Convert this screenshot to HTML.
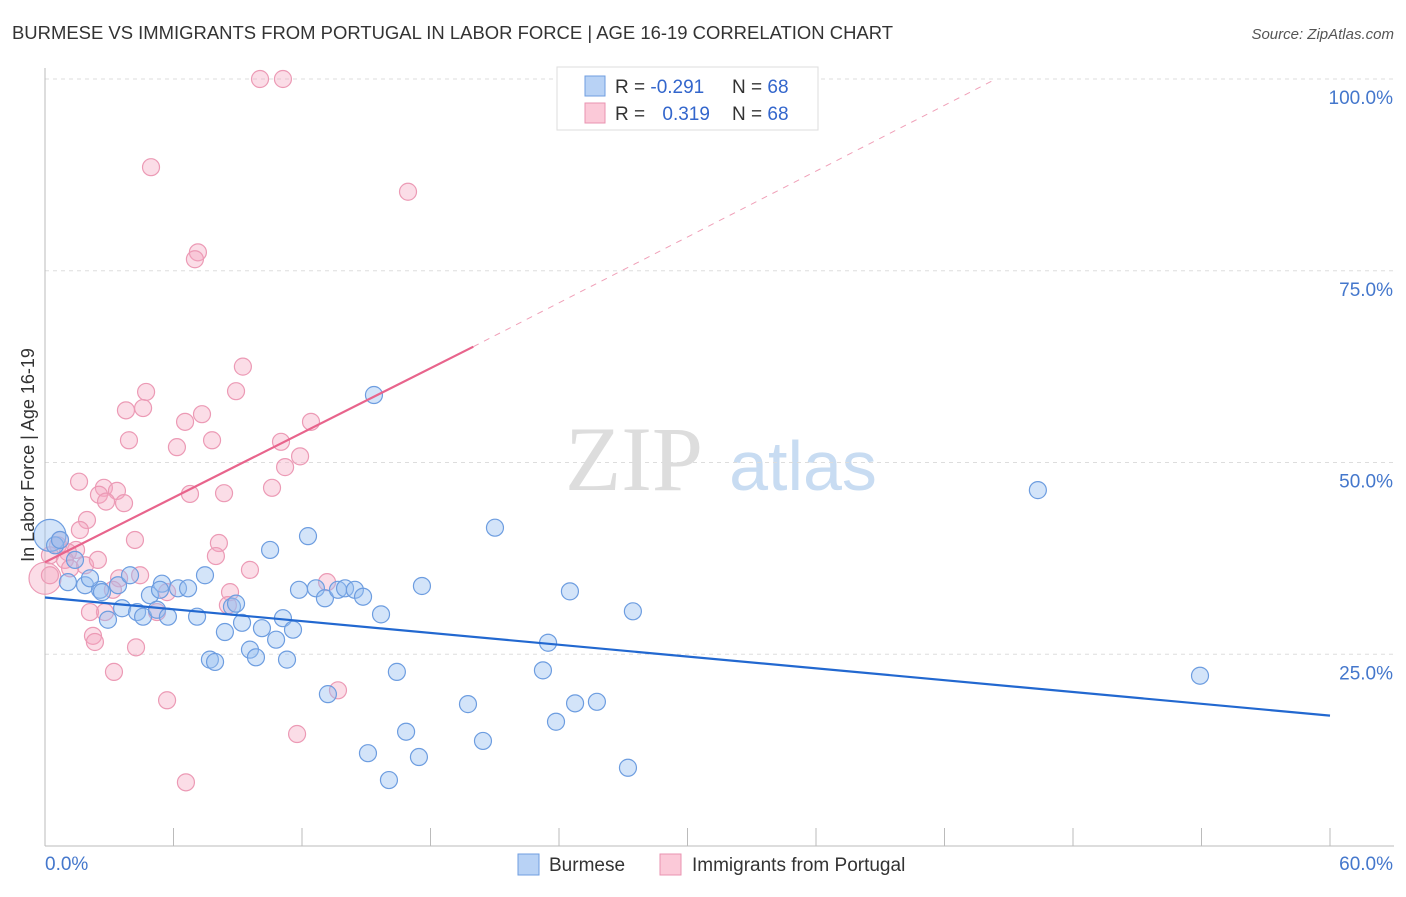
<!DOCTYPE html>
<html><head><meta charset="utf-8"><style>
body{margin:0;background:#fff;font-family:"Liberation Sans",sans-serif}
</style></head><body>
<svg width="1406" height="892" xmlns="http://www.w3.org/2000/svg" font-family="Liberation Sans, sans-serif">
<text x="12" y="39" font-size="18" fill="#333" textLength="881" lengthAdjust="spacingAndGlyphs">BURMESE VS IMMIGRANTS FROM PORTUGAL IN LABOR FORCE | AGE 16-19 CORRELATION CHART</text>
<text x="1394" y="39" font-size="15" fill="#555" text-anchor="end" font-style="italic">Source: ZipAtlas.com</text>
<g><text x="634" y="490" font-size="92" fill="#ddd" text-anchor="middle" font-family="Liberation Serif, serif">ZIP</text><text x="803" y="490" font-size="70" fill="#c8dcf2" text-anchor="middle">atlas</text></g>
<g id="grid"></g>
<g id="axes"></g>
<g id="marks"></g>
<text transform="translate(34,455) rotate(-90)" font-size="18" fill="#333" text-anchor="middle">In Labor Force | Age 16-19</text>
<g>
<rect x="557" y="67" width="261" height="63" fill="#fff" stroke="#ddd"/>
<rect x="585" y="76" width="20" height="20" fill="#b8d2f5" stroke="#6f9ee0"/>
<rect x="585" y="103" width="20" height="20" fill="#fbc9d8" stroke="#ea93b0"/>
<text x="615" y="93" font-size="19" fill="#333">R = <tspan fill="#3366cc">-0.291</tspan></text>
<text x="732" y="93" font-size="19" fill="#333">N = <tspan fill="#3366cc">68</tspan></text>
<text x="615" y="120" font-size="19" fill="#333">R = <tspan fill="#3366cc" dx="12">0.319</tspan></text>
<text x="732" y="120" font-size="19" fill="#333">N = <tspan fill="#3366cc">68</tspan></text>
</g>
<g>
<rect x="518" y="854" width="21" height="21" fill="#b8d2f5" stroke="#6f9ee0"/>
<text x="549" y="871" font-size="19" fill="#333">Burmese</text>
<rect x="660" y="854" width="21" height="21" fill="#fbc9d8" stroke="#ea93b0"/>
<text x="692" y="871" font-size="19" fill="#333">Immigrants from Portugal</text>
</g>
</svg>
<script>
const yTicks=[25,50,75,100];
const yTickLabels=["25.0%","50.0%","75.0%","100.0%"];
const xTickCount=10;
const blueX=[0.23,0.47,1.07,1.87,2.57,2.10,2.94,3.41,3.60,3.97,4.30,4.58,4.90,5.23,5.46,5.74,6.21,6.68,7.10,7.47,7.70,7.94,8.40,8.73,8.92,9.20,9.57,9.85,10.13,10.51,10.79,11.11,11.30,11.58,11.86,12.28,12.65,13.07,13.21,13.68,14.01,14.47,14.85,15.08,15.36,15.69,16.06,16.43,16.86,17.46,17.60,19.75,20.45,21.01,23.25,23.49,23.86,24.51,24.75,25.77,27.22,27.45,46.36,53.93,0.70,1.40,2.66,5.37];
const blueY=[40.5,39.2,34.4,34.0,33.4,34.9,29.5,34.0,31.0,35.3,30.5,29.9,32.7,30.8,34.2,29.9,33.6,33.6,29.9,35.3,24.3,24.0,27.9,31.2,31.6,29.1,25.6,24.6,28.4,38.6,26.9,29.7,24.3,28.2,33.4,40.4,33.6,32.3,19.8,33.4,33.6,33.4,32.5,12.1,58.8,30.2,8.6,22.7,14.9,11.6,33.9,18.5,13.7,41.5,22.9,26.5,16.2,33.2,18.6,18.8,10.2,30.6,46.4,22.2,39.9,37.3,33.1,33.4];
const pinkX=[10.04,11.11,4.95,16.95,7.14,7.00,9.24,4.72,8.92,3.78,4.58,7.33,6.54,12.42,3.92,7.80,11.02,6.16,11.91,11.21,1.59,10.60,2.75,3.36,2.52,6.77,8.36,2.85,3.69,1.96,1.63,4.20,8.12,7.98,1.45,0.61,1.07,0.93,0.23,0.00,0.23,1.87,2.47,9.57,3.46,4.44,3.17,2.80,2.10,5.70,8.64,8.54,13.17,5.23,2.24,2.33,4.25,3.22,5.70,13.68,11.77,6.58,1.17,0.70];
const pinkY=[100,100,88.5,85.3,77.4,76.5,62.5,59.2,59.3,56.8,57.1,56.3,55.3,55.3,52.9,52.9,52.7,52.0,50.8,49.4,47.5,46.7,46.7,46.3,45.8,45.9,46.0,44.9,44.7,42.5,41.2,39.9,39.5,37.8,38.6,39.2,38.3,37.3,37.9,34.9,35.3,36.6,37.3,36.0,34.9,35.3,33.4,30.5,30.5,33.1,33.1,31.4,34.4,30.5,27.4,26.6,25.9,22.7,19.0,20.3,14.6,8.3,36.2,39.9];
const blueBig=[0];const pinkBig=[39];
const blueTrend=[[0,32.4],[60,17.0]];
const pinkTrend=[[0,37.0],[20,65.1]];
const pinkDash=[[20,65.1],[44.4,100]];
const NS="http://www.w3.org/2000/svg";
const X=v=>45+v/60*1285, Y=v=>846-v*7.67;
function mk(t,a,p){const e=document.createElementNS(NS,t);for(const k in a)e.setAttribute(k,a[k]);document.getElementById(p).appendChild(e);return e;}
yTicks.forEach((t,i)=>{
 const g=mk('line',{x1:45,x2:1394,y1:Y(t),y2:Y(t),stroke:'#ddd','stroke-dasharray':'4,4'},'grid');
 
 
 const l=mk('text',{x:1393,y:Y(t)+25,'font-size':19,fill:'#4477cc','text-anchor':'end'},'axes');
 l.textContent=yTickLabels[i];
 
 
});
const ax=mk('line',{x1:45,x2:45,y1:68,y2:846,stroke:'#bbb'},'axes');


const bx=mk('line',{x1:45,x2:1394,y1:846,y2:846,stroke:'#bbb'},'axes');


for(let i=0;i<=xTickCount;i++){const t=mk('line',{x1:X(i*6),x2:X(i*6),y1:828,y2:846,stroke:'#bbb'},'axes');
 
 }
[["0.0%",45,'start'],["60.0%",1393,'end']].forEach(a=>{const t=mk('text',{x:a[1],y:870,'font-size':19,fill:'#4477cc','text-anchor':a[2]},'axes');t.textContent=a[0];
 
 });
function pts(xs,ys,big,fill,stroke,name){xs.forEach((x,i)=>{const c=mk('circle',{cx:X(x),cy:Y(ys[i]),r:big.includes(i)?16:8.5,fill:fill,stroke:stroke,'stroke-width':1.2},'marks');
 
 });}
pts(pinkX,pinkY,pinkBig,'rgba(245,165,192,0.38)','#ec9ab5','portugal-point');
pts(blueX,blueY,blueBig,'rgba(150,190,240,0.42)','#6d9de0','burmese-point');
function ln(p,st,w,d,name){const l=mk('line',{x1:X(p[0][0]),y1:Y(p[0][1]),x2:X(p[1][0]),y2:Y(p[1][1]),stroke:st,'stroke-width':w,'stroke-dasharray':d},'marks');
 
 }
ln(pinkDash,'#f0a0b8',1,'6,6','portugal-trend-extension');
ln(blueTrend,'#2268d0',2.2,'none','burmese-trendline');
ln(pinkTrend,'#e8648c',2.2,'none','portugal-trendline');
</script>
</body></html>
